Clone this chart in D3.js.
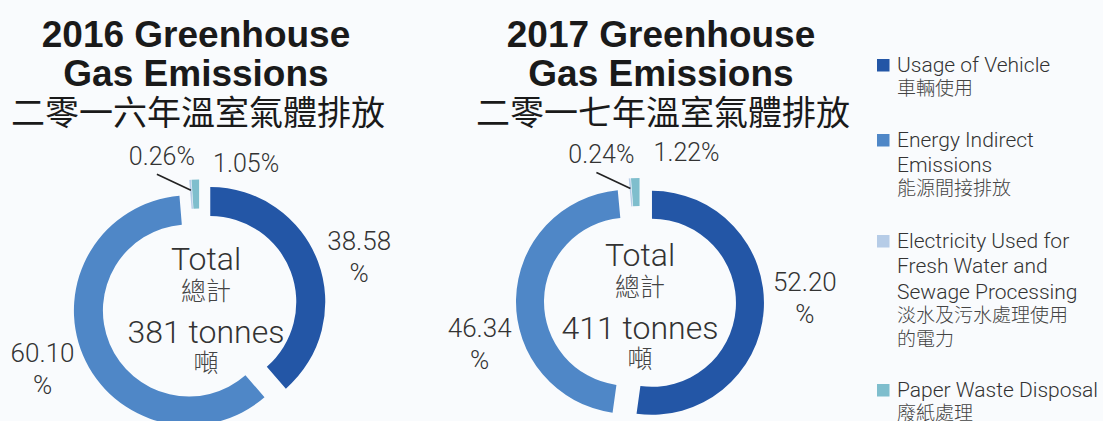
<!DOCTYPE html>
<html>
<head>
<meta charset="utf-8">
<script src="https://cdn.jsdelivr.net/npm/d3@7"></script>
<style>
  body { margin: 0; background: #f9fbfd; }
  svg { display: block; }
  .title { font-family: "Liberation Sans", Arial, sans-serif; font-weight: bold; fill: #1a1a1a; }
  .title-zh { font-family: "Noto Sans CJK TC", sans-serif; font-weight: 400; fill: #1a1a1a; }
  .lbl { font-family: Roboto, "Liberation Sans", sans-serif; font-weight: 300; fill: #333; }
  .zh { font-family: "Noto Sans CJK TC", sans-serif; font-weight: 300; fill: #444; }
</style>
</head>
<body>
<svg id="chart"></svg>
<script>
// data
var categories = ["Usage of Vehicle", "Energy Indirect Emissions", "Electricity Used for Fresh Water and Sewage Processing", "Paper Waste Disposal"];
var categoriesZh = ["車輛使用", "能源間接排放", "淡水及污水處理使用的電力", "廢紙處理"];
var years = ["2016", "2017"];
var yearsZh = ["二零一六年溫室氣體排放", "二零一七年溫室氣體排放"];
var share2016 = [38.58, 60.10, 0.26, 1.05];
var share2017 = [52.20, 46.34, 0.24, 1.22];
var totals = [381, 411];
var colors = ["#2356a6", "#4f87c7", "#b6cce7", "#7fbecd"];

// legend text broken into lines the way the original shows them
var legendLines = [
    ["Usage of Vehicle"],
    ["Energy Indirect", "Emissions"],
    ["Electricity Used for", "Fresh Water and", "Sewage Processing"],
    ["Paper Waste Disposal"]
];
var legendLinesZh = [["車輛使用"], ["能源間接排放"], ["淡水及污水處理使用", "的電力"], ["廢紙處理"]];

var W = 1103, H = 421;
var svg = d3.select("#chart").attr("width", W).attr("height", H);

// layout for each donut (label nudges in degrees)
var layout = [
    { cx: 199.5, cy: 306, R: 115, r: 86, explode: 11.5, textX: 206, titleX: 196, labelNudge: [2.5, 2] },
    { cx: 640, cy: 302, R: 112, r: 84, explode: 12, textX: 640, titleX: 661, labelNudge: [-6.5, -15] }
];
var shares = [share2016, share2017];

var pie = d3.pie().sort(null).value(function(d){ return d; });
var fmt = d3.format(".2f");

years.forEach(function(year, k){
    var L = layout[k];
    var arcs = pie(shares[k]);
    var arc = d3.arc().innerRadius(L.r).outerRadius(L.R);
    var g = svg.append("g").attr("transform", "translate(" + L.cx + "," + L.cy + ")");

    // pull each slice out along its middle angle
    var offset = function(d, e){
        var a = (d.startAngle + d.endAngle) / 2;
        return [e * Math.sin(a), -e * Math.cos(a)];
    };

    g.selectAll("path.slice").data(arcs)
        .enter().append("path")
        .attr("class", "slice")
        .attr("transform", function(d){ var o = offset(d, L.explode); return "translate(" + o[0] + "," + o[1] + ")"; })
        .attr("d", arc)
        .attr("fill", function(d, i){ return colors[i]; });

    // big slice labels: number on one line, % below
    [0, 1].forEach(function(i){
        var d = arcs[i];
        var a = (d.startAngle + d.endAngle) / 2 + L.labelNudge[i] * Math.PI / 180;
        var rr = L.R + 53;
        var x = rr * Math.sin(a), y = -rr * Math.cos(a);
        var t = g.append("text").attr("class", "lbl").attr("text-anchor", "middle")
            .style("font-size", "26px");
        t.append("tspan").attr("x", x).attr("y", y - 4).text(fmt(d.data));
        t.append("tspan").attr("x", x).attr("y", y + 28).text("%");
    });

    // tiny slices
    var el = arcs[2], pw = arcs[3];
    var eo = offset(el, L.explode);
    var ea = (el.startAngle + el.endAngle) / 2;
    var er = (L.R + L.r) / 2 + 4;
    var ex = eo[0] + er * Math.sin(ea), ey = eo[1] - er * Math.cos(ea);
    g.append("line")
        .attr("x1", ex - 34).attr("y1", ey - 16).attr("x2", ex).attr("y2", ey)
        .attr("stroke", "#222").attr("stroke-width", 1.6);
    g.append("text").attr("class", "lbl").attr("text-anchor", "end")
        .style("font-size", "25px")
        .attr("x", ex + 4).attr("y", ey - 25)
        .text(fmt(el.data) + "%");

    var po = offset(pw, L.explode);
    var px = po[0] + L.R * Math.sin(pw.endAngle), py = po[1] - L.R * Math.cos(pw.endAngle);
    g.append("text").attr("class", "lbl").attr("text-anchor", "start")
        .style("font-size", "25px")
        .attr("x", px + 14).attr("y", py - 9 + (k === 0 ? 1 : -8))
        .text(fmt(pw.data) + "%");

    // centre texts
    var c = svg.append("g").attr("transform", "translate(" + L.textX + "," + L.cy + ")")
        .attr("text-anchor", "middle");
    c.append("text").attr("class", "lbl").style("font-size", "32px").attr("y", -36).text("Total");
    c.append("text").attr("class", "zh").style("font-size", "25px").attr("y", -6).text("總計");
    c.append("text").attr("class", "lbl").style("font-size", "32px").attr("y", 37).text(totals[k] + " tonnes");
    c.append("text").attr("class", "zh").style("font-size", "25px").attr("y", 66).text("噸");

    // titles
    var tg = svg.append("g").attr("text-anchor", "middle");
    tg.append("text").attr("class", "title").style("font-size", "37px")
        .attr("x", L.titleX).attr("y", 47).text(year + " Greenhouse");
    tg.append("text").attr("class", "title").style("font-size", "37px")
        .attr("x", L.titleX).attr("y", 86).text("Gas Emissions");
    tg.append("text").attr("class", "title-zh").style("font-size", "34px")
        .attr("x", L.titleX + 2).attr("y", 125).text(yearsZh[k]);
});

// legend
var legendTop = [59, 134, 235, 384];
var legend = svg.append("g").attr("transform", "translate(877,0)");
categories.forEach(function(cat, i){
    var gi = legend.append("g").attr("transform", "translate(0," + legendTop[i] + ")");
    gi.append("rect").attr("width", 12.5).attr("height", 12.5).attr("fill", colors[i]);
    var y = 12.5;
    legendLines[i].forEach(function(line){
        gi.append("text").attr("class", "lbl").style("font-size", "21px")
            .attr("x", 20).attr("y", y).text(line);
        y += 25.7;
    });
    y -= 2.5;
    legendLinesZh[i].forEach(function(line){
        gi.append("text").attr("class", "zh").style("font-size", "19px")
            .attr("x", 20).attr("y", y).text(line);
        y += 23.5;
    });
});
</script>
</body>
</html>
